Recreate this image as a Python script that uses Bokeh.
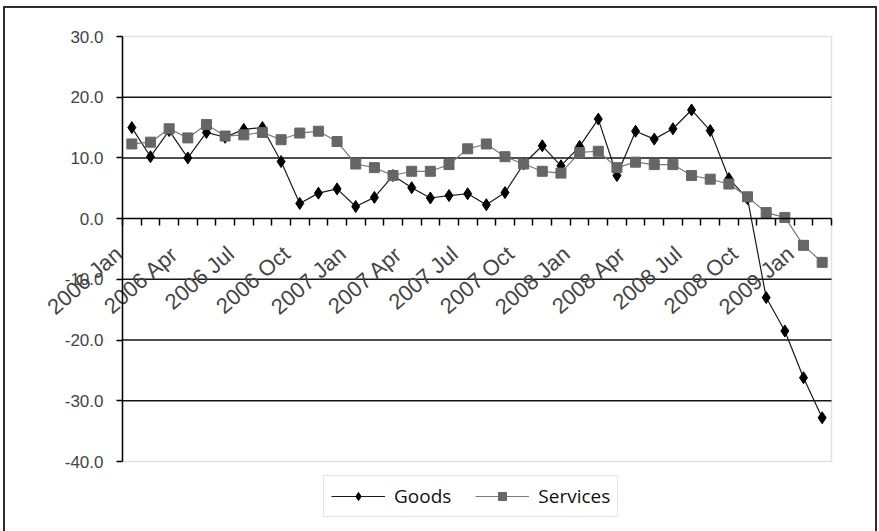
import math
from bokeh.plotting import figure
from bokeh.models import (ColumnDataSource, Range1d, FixedTicker, NumeralTickFormatter,
                          Legend, LegendItem, BoxAnnotation)
from bokeh.core.properties import value
from bokeh.embed import file_html
from bokeh.resources import INLINE

# ---- data ----
months = [
    "2006 Jan", "2006 Feb", "2006 Mar", "2006 Apr", "2006 May", "2006 Jun",
    "2006 Jul", "2006 Aug", "2006 Sep", "2006 Oct", "2006 Nov", "2006 Dec",
    "2007 Jan", "2007 Feb", "2007 Mar", "2007 Apr", "2007 May", "2007 Jun",
    "2007 Jul", "2007 Aug", "2007 Sep", "2007 Oct", "2007 Nov", "2007 Dec",
    "2008 Jan", "2008 Feb", "2008 Mar", "2008 Apr", "2008 May", "2008 Jun",
    "2008 Jul", "2008 Aug", "2008 Sep", "2008 Oct", "2008 Nov", "2008 Dec",
    "2009 Jan", "2009 Feb",
]
goods = [15.0, 10.2, 14.5, 10.0, 14.2, 13.4, 14.7, 15.0, 9.4, 2.5,
         4.2, 4.9, 2.0, 3.5, 7.1, 5.1, 3.4, 3.8, 4.1, 2.3,
         4.3, 9.0, 12.0, 8.7, 11.9, 16.4, 7.1, 14.4, 13.1, 14.8,
         17.9, 14.5, 6.6, 3.3, -13.0, -18.5, -26.2, -32.8]
services = [12.3, 12.6, 14.8, 13.3, 15.5, 13.6, 13.8, 14.2, 13.0, 14.1,
            14.4, 12.7, 9.0, 8.4, 7.1, 7.8, 7.8, 8.9, 11.5, 12.3,
            10.2, 9.0, 7.8, 7.5, 10.9, 11.1, 8.4, 9.3, 8.9, 8.9,
            7.1, 6.5, 5.7, 3.6, 1.0, 0.2, -4.4, -7.2]
tick_labels = ["2006 Jan", "2006 Apr", "2006 Jul", "2006 Oct",
               "2007 Jan", "2007 Apr", "2007 Jul", "2007 Oct",
               "2008 Jan", "2008 Apr", "2008 Jul", "2008 Oct", "2009 Jan"]
y_ticks = [-40, -30, -20, -10, 0, 10, 20, 30]
series_names = ["Goods", "Services"]

# ---- layout geometry (pixels) ----
W, H = 879, 531
PL, PR, PT, PB = 122, 831, 36, 461      # plot-area box inside the canvas

n = len(months)
idx = list(range(n))
x_lo, x_hi = -0.5, n - 0.5
y_lo, y_hi = y_ticks[0], y_ticks[-1]
ppx = (PR - PL) / (x_hi - x_lo)
ppy = (PB - PT) / (y_hi - y_lo)
x_range = Range1d(x_lo - PL / ppx, x_hi + (W - PR) / ppx)
y_range = Range1d(y_lo - (H - PB) / ppy, y_hi + PT / ppy)

src = ColumnDataSource(dict(x=idx, month=months, goods=goods, services=services))

p = figure(width=W, height=H, x_range=x_range, y_range=y_range,
           output_backend="svg", toolbar_location=None,
           min_border=0, min_border_left=0, min_border_right=0,
           min_border_top=0, min_border_bottom=0,
           background_fill_color=None, border_fill_color=None)
p.outline_line_color = None
p.xgrid.visible = False
p.ygrid.visible = False

# outer chart border (top, left, right) drawn as CSS background of the host element
bc = "#2e2e2e"
p.styles = {
    "background": (f"linear-gradient({bc},{bc}) 3px 6px / 874px 2px no-repeat, "
                   f"linear-gradient({bc},{bc}) 3px 6px / 2px 525px no-repeat, "
                   f"linear-gradient({bc},{bc}) 875px 6px / 2px 525px no-repeat, #ffffff")
}

# horizontal gridlines limited to the plot area
grid_vals = [t for t in y_ticks if t not in (0, y_lo, y_hi)]
p.segment(x0=[x_lo] * len(grid_vals), x1=[x_hi] * len(grid_vals), y0=grid_vals, y1=grid_vals,
          line_color="#151515", line_width=1.5)

# plot-area border
p.add_layout(BoxAnnotation(left=x_lo, right=x_hi, bottom=y_lo, top=y_hi,
                           fill_color=None, line_color="#9c9c9c", line_width=1.5,
                           level="underlay"))

# y axis at the left edge of the plot area
p.yaxis.fixed_location = x_lo
p.yaxis.bounds = (y_lo, y_hi)
p.yaxis.ticker = FixedTicker(ticks=y_ticks)
p.yaxis.formatter = NumeralTickFormatter(format="0.0")
p.yaxis.major_label_text_font = "Liberation Sans"
p.yaxis.major_label_text_font_size = "17px"
p.yaxis.major_label_text_color = "#444444"
p.yaxis.axis_line_color = "black"
p.yaxis.axis_line_width = 1.5
p.yaxis.major_tick_line_color = "black"
p.yaxis.major_tick_line_width = 1.5
p.yaxis.major_tick_out = 6
p.yaxis.major_tick_in = 0
p.yaxis.minor_tick_out = 0
p.yaxis.minor_tick_in = 0
p.yaxis.major_label_standoff = 13

# x axis crossing at 0, tick marks between categories
p.xaxis.fixed_location = 0
p.xaxis.bounds = (x_lo, x_hi)
p.xaxis.ticker = FixedTicker(ticks=[], minor_ticks=[i - 0.5 for i in range(n + 1)])
p.xaxis.axis_line_color = "black"
p.xaxis.axis_line_width = 1.5
p.xaxis.minor_tick_line_color = "black"
p.xaxis.minor_tick_line_width = 1.5
p.xaxis.minor_tick_out = 7
p.xaxis.minor_tick_in = 0
p.xaxis.major_tick_out = 0
p.xaxis.major_tick_in = 0

# series
g_line = p.line("x", "goods", source=src, line_color="#1a1a1a", line_width=1.2)
g_pts = p.scatter("x", "goods", source=src, marker="diamond", size=12,
                  fill_color="black", line_color="black")
s_line = p.line("x", "services", source=src, line_color="#7a7a7a", line_width=1.2)
s_pts = p.scatter("x", "services", source=src, marker="square", size=10,
                  fill_color="#666666", line_color="#666666")

# rotated category labels
lab_src = ColumnDataSource(dict(x=[months.index(t) for t in tick_labels],
                                y=[0] * len(tick_labels), text=tick_labels))
p.text("x", "y", "text", source=lab_src, angle=math.radians(41),
       text_align="right", text_baseline="middle", x_offset=-13, y_offset=32,
       text_font=value("Liberation Sans"), text_font_size="22px", text_color="#444444")

legend = Legend(items=[LegendItem(label=series_names[0], renderers=[g_line, g_pts]),
                       LegendItem(label=series_names[1], renderers=[s_line, s_pts])],
                orientation="horizontal", location=(323, H - 517),
                glyph_width=54, glyph_height=20, label_standoff=9, spacing=24,
                padding=7, margin=0,
                border_line_color="#c8c8c8", border_line_width=1,
                background_fill_color="white",
                label_text_font="Open Sans", label_text_font_size="19px",
                label_text_color="#111111")
p.add_layout(legend, "center")

open("out.html", "w").write(file_html(p, INLINE))
